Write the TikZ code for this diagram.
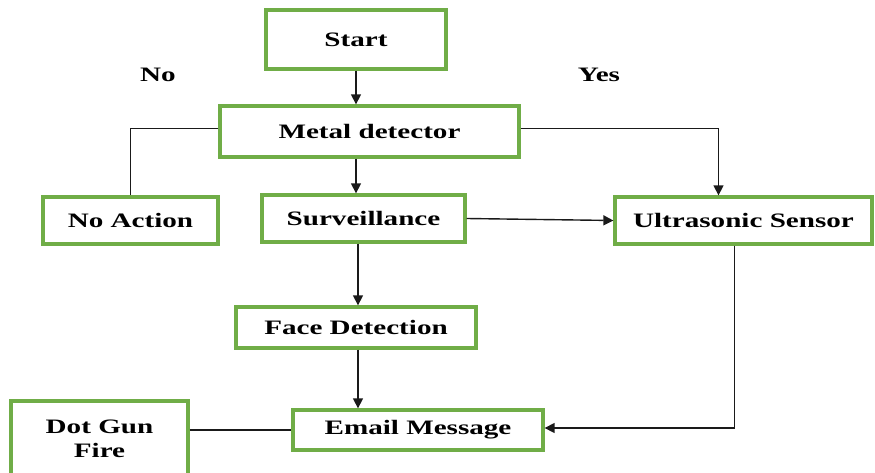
\documentclass[tikz,border=0pt]{standalone}
\usepackage{fontspec}
\setmainfont{Liberation Serif}
\usepackage{graphicx}
\usetikzlibrary{arrows.meta}
\definecolor{boxgreen}{HTML}{70AD47}
\definecolor{wire}{HTML}{1A1A1A}
% wide bold caption text
\newcommand{\wtxt}[1]{\scalebox{1.42}[1]{\fontsize{20.5}{25}\selectfont\bfseries #1}}
\begin{document}
\begin{tikzpicture}[x=1pt,y=-1pt,
  box/.style={draw=boxgreen,line width=3.3pt,fill=white,inner sep=0pt,
    align=center,minimum width=#1},
  conn/.style={draw=wire,line width=1.4pt},
  arr/.style={conn,-{Triangle[length=10pt,width=10pt]}},
  lbl/.style={inner sep=0pt}]
\useasboundingbox (0,0) rectangle (875,473);

\node[box=180pt,minimum height=59pt] (Start)    at (356,39.5)   {\wtxt{Start}};
\node[box=299pt,minimum height=51pt] (Metal)    at (369.5,131.5){\wtxt{Metal detector}};
\node[box=175pt,minimum height=47pt] (NoAction) at (130.5,220.5){\wtxt{No Action}};
\node[box=203pt,minimum height=47pt] (Surv)     at (363.5,218.5){\wtxt{Surveillance}};
\node[box=257pt,minimum height=47pt] (Ultra)    at (743.5,220.5){\wtxt{Ultrasonic Sensor}};
\node[box=240pt,minimum height=41pt] (Face)     at (356,327.5)  {\wtxt{Face Detection}};
\node[box=250pt,minimum height=40pt] (Email)    at (418,430)    {\wtxt{Email Message}};
\node[box=177pt,minimum height=78pt] (DotGun)   at (99.5,440)
  {\scalebox{1.42}[1]{\fontsize{20.5}{25}\selectfont\bfseries\begin{tabular}{@{}c@{}}Dot Gun\\[-1pt]Fire\end{tabular}}};

\node[lbl] (No)  at (158,75) {\wtxt{No}};
\node[lbl] (Yes) at (599,75) {\wtxt{Yes}};

\coordinate (ubend) at (734.5,428);

\draw[arr] (Start.south) -- (Start.south |- Metal.north);
\draw[arr] (Metal.south -| Start.south) -- (Surv.north -| Start.south);
\draw[conn] ([yshift=3pt]Metal.west) -| (NoAction.north);
\draw[arr] ([yshift=3pt]Metal.east) -| ([xshift=-25pt]Ultra.north);
\draw[arr] (Surv.east) -- (Ultra.west);
\draw[arr] ([xshift=2pt]Surv.south -| Face.north) -- ([xshift=2pt]Face.north);
\draw[arr] ([xshift=2pt]Face.south) -- ([xshift=2pt]Face.south |- Email.north);
\draw[conn] (DotGun.east |- Email.west) -- (Email.west);
\draw[arr] (Ultra.south -| ubend) -- (ubend) -- ([yshift=2pt]Email.east);
\end{tikzpicture}
\end{document}
